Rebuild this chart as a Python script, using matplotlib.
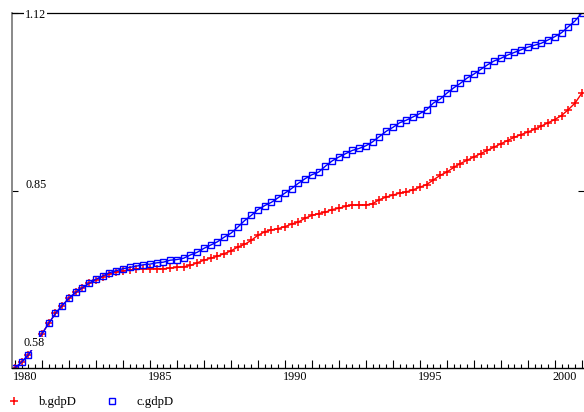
import matplotlib
matplotlib.use('Agg')
import matplotlib.pyplot as plt
import matplotlib.transforms as mtransforms
from matplotlib.lines import Line2D

plt.rcParams['font.family'] = ['Liberation Serif', 'DejaVu Serif']

# quarterly series, 1980Q1 .. 2001Q1
b_gdpD = [0.580, 0.589, 0.600, 0.616, 0.632, 0.648, 0.663, 0.675, 0.686, 0.695,
          0.702, 0.709, 0.714, 0.719, 0.723, 0.726, 0.728, 0.729, 0.731, 0.731,
          0.731, 0.731, 0.731, 0.732, 0.733, 0.734, 0.736, 0.740, 0.744, 0.747,
          0.750, 0.754, 0.758, 0.764, 0.768, 0.774, 0.782, 0.787, 0.790, 0.792,
          0.795, 0.799, 0.802, 0.808, 0.812, 0.815, 0.817, 0.821, 0.823, 0.826,
          0.828, 0.828, 0.828, 0.830, 0.836, 0.840, 0.843, 0.846, 0.848, 0.851,
          0.855, 0.859, 0.866, 0.873, 0.878, 0.885, 0.891, 0.896, 0.901, 0.906,
          0.911, 0.916, 0.921, 0.926, 0.931, 0.935, 0.939, 0.943, 0.948, 0.953,
          0.958, 0.964, 0.973, 0.983, 0.998]
c_gdpD = [0.580, 0.589, 0.600, 0.616, 0.632, 0.648, 0.663, 0.675, 0.686, 0.695,
          0.702, 0.709, 0.715, 0.720, 0.725, 0.728, 0.731, 0.733, 0.735, 0.737,
          0.738, 0.740, 0.741, 0.744, 0.745, 0.747, 0.752, 0.756, 0.762, 0.767,
          0.772, 0.779, 0.785, 0.794, 0.804, 0.812, 0.821, 0.827, 0.832, 0.839,
          0.846, 0.853, 0.861, 0.868, 0.874, 0.878, 0.887, 0.895, 0.901, 0.906,
          0.911, 0.914, 0.918, 0.924, 0.932, 0.940, 0.946, 0.953, 0.957, 0.962,
          0.967, 0.973, 0.983, 0.989, 0.998, 1.006, 1.013, 1.021, 1.027, 1.034,
          1.041, 1.047, 1.051, 1.056, 1.060, 1.064, 1.068, 1.071, 1.074, 1.079,
          1.084, 1.090, 1.099, 1.108, 1.120]
dates = [1980 + i / 4 for i in range(len(c_gdpD))]

years = list(range(1980, 2002))
year_labels = [str(y) if y % 5 == 0 else '' for y in years]
y_ticks = [0.58, 0.85, 1.12]
y_labels = ['0.58', '0.85', '1.12']

fig = plt.figure(figsize=(5.84, 4.12), dpi=100)
ax = fig.add_axes([12 / 584, 44 / 412, 572 / 584, 355 / 412])

ax.plot(dates, b_gdpD, color='#ff0000', lw=1, marker='+', ms=6, mew=1.1)
ax.plot(dates, c_gdpD, color='#0000ff', lw=1, marker='s', ms=5, mew=1,
        mfc='none')

ax.set_xlim(1979.889, 2001.082)
ax.set_ylim(0.58, 1.12)

ax.set_xticks(years, year_labels, fontsize=8.7)
ax.set_xticks([y + q / 4 for y in years[:-1] for q in (1, 2, 3)], minor=True)
ax.tick_params(axis='x', which='major', direction='in', length=5.8, width=0.8,
               pad=2.5, colors='black')
ax.tick_params(axis='x', which='minor', direction='in', length=2.9, width=0.8)
shift = mtransforms.ScaledTranslation(-2 / 100, 0, fig.dpi_scale_trans)
for lbl in ax.get_xticklabels():
    lbl.set_horizontalalignment('left')
    lbl.set_transform(lbl.get_transform() + shift)

ax.set_yticks(y_ticks, [''] * len(y_ticks))
ax.tick_params(axis='y', direction='in', length=4.5, width=0.8, right=True)

# value labels drawn inside the frame, as in the original
offsets = {'1.12': (13, -2), '0.85': (13, 5.5), '0.58': (12, 24.5)}
for val, txt in zip(y_ticks, y_labels):
    ax.annotate(txt, xy=(0, val), xycoords=('axes fraction', 'data'),
                xytext=offsets[txt], textcoords='offset pixels',
                ha='left', va='center', fontsize=8.7, zorder=5,
                bbox=dict(facecolor='white', edgecolor='none', pad=0.6))

ax.spines['right'].set_visible(False)
ax.spines['left'].set_color('#808080')
ax.spines['left'].set_linewidth(1.3)
ax.spines['top'].set_linewidth(0.9)
ax.spines['bottom'].set_linewidth(1.0)

handles = [Line2D([], [], ls='none', color='#ff0000', marker='+', ms=6, mew=1.1),
           Line2D([], [], ls='none', color='#0000ff', marker='s', ms=5, mew=1,
                  mfc='none')]
fig.legend(handles, ['b.gdpD', 'c.gdpD'], loc='center left',
           bbox_to_anchor=(8 / 584, 1 - 402 / 412), ncol=2, frameon=False,
           fontsize=9.2, handlelength=1.0, handletextpad=1.4,
           columnspacing=2.3, borderpad=0, borderaxespad=0)

fig.savefig('out.png', dpi=100)
